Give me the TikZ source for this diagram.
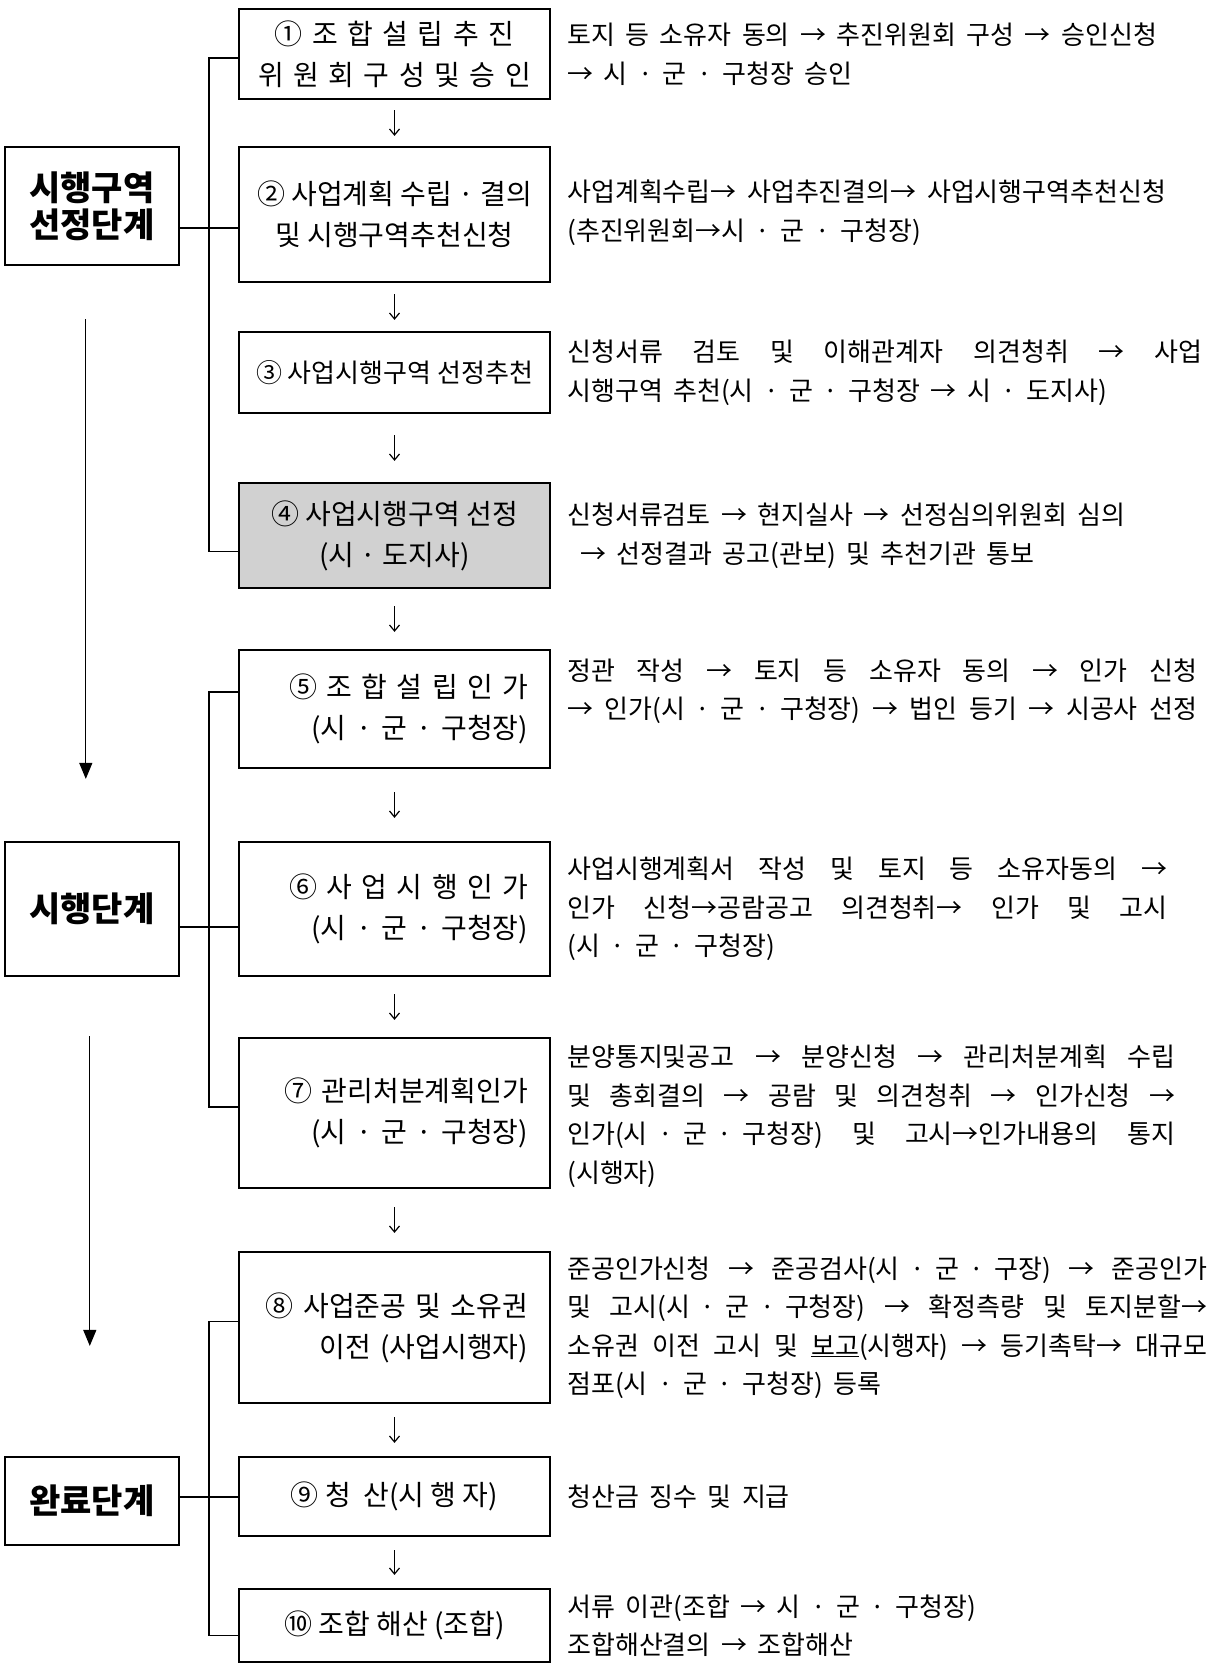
\documentclass[tikz,border=0pt]{standalone}
\usepackage{fontspec}
\setmainfont{Noto Sans CJK KR}
\usepackage{tikz}
\usetikzlibrary{arrows.meta,calc,positioning}
\newcommand{\fullline}[2]{\makebox[#1][s]{#2}}
\newcommand{\notefont}{\fontsize{26}{38.5}\selectfont\spaceskip=0.4em plus 0.6em minus 0.1em\relax}
\newcommand{\widefont}{\fontsize{28}{41}\selectfont\spaceskip=0.34em\relax}

\begin{document}
\begin{tikzpicture}[
  x=1pt, y=-1pt,
  node distance=50pt and 58pt,
  stepbox/.style={rectangle, draw, line width=2.2pt, minimum width=311pt, inner sep=0pt, font=\fontsize{28}{41}\selectfont, align=center},
  stepshade/.style={stepbox, fill=black!18},
  stagebox/.style={rectangle, draw, line width=2.2pt, minimum width=174pt, inner sep=0pt, font=\fontsize{34}{37}\selectfont\bfseries, align=center},
  note/.style={inner sep=0pt, font=\notefont, align=left},
  link/.style={line width=1.2pt},
  flow/.style={-{Straight Barb[length=6pt,width=10pt]}, line width=1.2pt},
  phase/.style={-{Triangle[length=16pt,width=13pt]}, line width=1.3pt}
]

\useasboundingbox (0,0) rectangle (1210,1664);

% Steps (middle column)
\node[stepbox, font=\widefont, minimum height=90pt] (b1) at (394.5,54) {① 조 합 설 립 추 진\\위 원 회 구 성 및 승 인};
\node[stepbox, minimum height=135pt, below=45.8pt of b1] (b2) {② 사업계획 수립 · 결의\\및 시행구역추천신청};
\node[stepbox, font=\fontsize{26}{41}\selectfont, minimum height=81pt, below=47.8pt of b2] (b3) {③ 사업시행구역 선정추천};
\node[stepshade, minimum height=105pt, below=67.8pt of b3] (b4) {④ 사업시행구역 선정\\(시 · 도지사)};
\node[stepbox, minimum height=118pt, below=59.8pt of b4, text width=267pt, align=right] (b5) {⑤ 조 합 설 립 인 가\\(시 · 군 · 구청장)};
\node[stepbox, minimum height=134pt, below=71.8pt of b5, text width=267pt, align=right] (b6) {⑥ 사 업 시 행 인 가\\(시 · 군 · 구청장)};
\node[stepbox, minimum height=150pt, below=59.8pt of b6, text width=267pt, align=right] (b7) {⑦ 관리처분계획인가\\(시 · 군 · 구청장)};
\node[stepbox, minimum height=151pt, below=61.8pt of b7, text width=267pt, align=right] (b8) {⑧ 사업준공 및 소유권\\이전 (사업시행자)};
\node[stepbox, minimum height=79pt, below=51.8pt of b8] (b9) {⑨ 청~~산(시 행 자)};
\node[stepbox, minimum height=73pt, below=50.8pt of b9] (b10) {⑩ 조합 해산 (조합)};

% Stages (left column)
\node[stagebox, minimum height=118pt, left=58pt of b2.north west, anchor=north east] (s1) {시행구역\\선정단계};
\node[stagebox, minimum height=134pt, left=58pt of b6] (s2) {시행단계};
\node[stagebox, minimum height=88pt, left=58pt of b9.north west, anchor=north east] (s3) {완료단계};

% Descriptions (right column)
\node[note, right=16pt of b1] (d1) {토지 등 소유자 동의 → 추진위원회 구성 → 승인신청\\→ 시 · 군 · 구청장 승인};
\node[note, right=16pt of b2, yshift=2pt] (d2) {사업계획수립→ 사업추진결의→ 사업시행구역추천신청\\(추진위원회→시 · 군 · 구청장)};
\node[note, right=16pt of b3] (d3) {\fullline{635pt}{신청서류 검토 및 이해관계자 의견청취 → 사업}\\시행구역 추천(시 · 군 · 구청장 → 시 · 도지사)};
\node[note, right=16pt of b4] (d4) {신청서류검토 → 현지실사 → 선정심의위원회 심의\\\hspace*{0.5em}→ 선정결과 공고(관보) 및 추천기관 통보};
\node[note, right=16pt of b5, yshift=18pt] (d5) {\fullline{630pt}{정관 작성 → 토지 등 소유자 동의 → 인가 신청}\\\fullline{630pt}{→ 인가(\mbox{시 · 군 · 구청장}) → 법인 등기 → 시공사 선정}};
\node[note, right=16pt of b6] (d6) {\fullline{600pt}{사업시행계획서 작성 및 토지 등 소유자동의 →}\\\fullline{600pt}{인가 신청→공람공고 의견청취→ 인가 및 고시}\\(시 · 군 · 구청장)};
\node[note, right=16pt of b7, yshift=-3pt] (d7) {\fullline{608pt}{분양통지및공고 → 분양신청 → 관리처분계획 수립}\\\fullline{608pt}{및 총회결의 → 공람 및 의견청취 → 인가신청 →}\\\fullline{608pt}{인가(\mbox{시 · 군 · 구청장}) 및 고시→인가내용의 통지}\\(시행자)};
\node[note, right=16pt of b8] (d8) {\fullline{640pt}{준공인가신청 → 준공검사(\mbox{시 · 군 · 구장}) → 준공인가}\\\fullline{640pt}{및 고시(\mbox{시 · 군 · 구청장}) → 확정측량 및 토지분할→}\\\fullline{640pt}{소유권 이전 고시 및 \underline{보고}(시행자) → 등기촉탁→ 대규모}\\점포(시 · 군 · 구청장) 등록};
\node[note, right=16pt of b9] (d9) {청산금 징수 및 지급};
\node[note, right=16pt of b10] (d10) {서류 이관(조합 → 시 · 군 · 구청장)\\조합해산결의 → 조합해산};

% Stage links
\draw[link] ([yshift=-22pt]s1.east) -- ([yshift=-22pt]s1.east -| b2.west);
\draw[link] ([yshift=-18pt]s2.east) -- ([yshift=-18pt]s2.east -| b6.west);
\draw[link] ([yshift=4pt]s3.east) -- ([yshift=4pt]s3.east -| b9.west);

% Brackets
\draw[link] ([yshift=-4pt]b1.west) -- ++(-29,0) |- ([yshift=-16pt]b4.west);
\draw[link] ([yshift=17pt]b5.west) -- ++(-29,0) |- ([yshift=6pt]b7.west);
\draw[link] ([yshift=6pt]b8.west) -- ++(-29,0) |- ([yshift=-10pt]b10.west);

% Arrows between steps
\foreach \a/\b/\s in {b1/b2/10pt, b2/b3/11pt, b3/b4/21pt, b4/b5/17pt, b5/b6/23pt, b6/b7/17pt, b7/b8/18pt, b8/b9/13pt, b9/b10/13pt}
  \draw[flow, shorten <=\s, shorten >=\s] (\a) -- (\b);

% Arrows between stages
\draw[phase, shorten <=53pt, shorten >=62pt] ([xshift=-6pt]s1.south) -- ([xshift=-6pt]s2.north);
\draw[phase, shorten <=59pt, shorten >=110pt] ([xshift=-2pt]s2.south) -- ([xshift=-2pt]s3.north);

\end{tikzpicture}
\end{document}
